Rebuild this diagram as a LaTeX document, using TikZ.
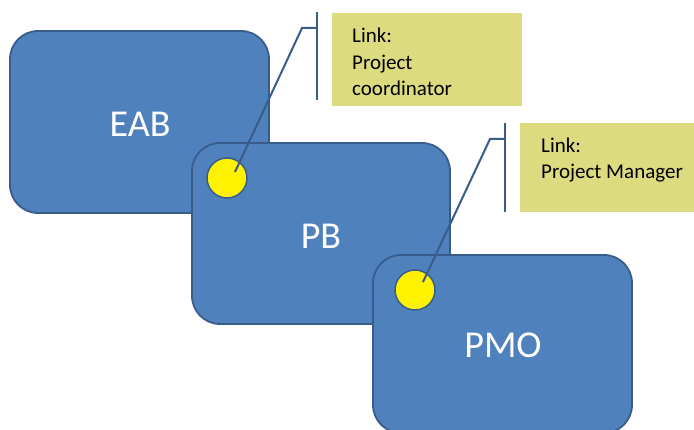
\documentclass[tikz,border=0pt]{standalone}
\usepackage{fontspec}
\setmainfont{Carlito}
\definecolor{boxblue}{RGB}{79,129,189}
\definecolor{edgeblue}{RGB}{56,93,138}
\definecolor{calloutfill}{RGB}{221,219,128}
\begin{document}
\begin{tikzpicture}[x=1pt,y=-1pt,
  bigbox/.style={draw=edgeblue, line width=1.8pt, fill=boxblue, rounded corners=28pt, inner sep=0pt},
  boxlabel/.style={text=white, font=\fontsize{38}{44}\selectfont},
  dot/.style={circle, draw=edgeblue, line width=1.5pt, fill=yellow, inner sep=0pt, minimum size=40pt},
  notebox/.style={fill=calloutfill, inner sep=0pt},
  notetext/.style={anchor=base west, inner sep=0pt, text=black, font=\fontsize{21}{25}\selectfont},
  leader/.style={draw=edgeblue, line width=2pt}]
\useasboundingbox (0,0) rectangle (694,430);
\fill[white] (0,0) rectangle (694,430);
% boxes
\node[bigbox, minimum width=259pt, minimum height=182pt] (eab) at (139.5,122) {};
\node[boxlabel] (eabt) at (140,124) {EAB};
\node[bigbox, minimum width=258pt, minimum height=181pt] (pb) at (321,233.5) {};
\node[boxlabel] (pbt) at (321,236) {PB};
\node[bigbox, minimum width=259pt, minimum height=178pt] (pmo) at (502.5,344) {};
\node[boxlabel] (pmot) at (503,345) {PMO};
% yellow dots
\node[dot] (d1) at (227,178) {};
\node[dot] (d2) at (415,290) {};
% callout 1
\node[notebox, minimum width=190pt, minimum height=93pt, anchor=north west] (n1) at (332,13) {};
\coordinate (b1t) at (317,12);
\coordinate (b1b) at (317,100);
\coordinate (k1) at (302,28);
\coordinate (h1) at (317,28);
\draw[leader] (b1t) -- (b1b);
\draw[leader] ([shift={(8,-6)}]d1.center) -- (k1) -- (h1);
\node[notetext] (n1a) at (352,43) {Link:};
\node[notetext] (n1b) at (352,69.5) {Project};
\node[notetext] (n1c) at (352,96) {coordinator};
% callout 2
\node[notebox, minimum width=180pt, minimum height=89pt, anchor=north west] (n2) at (520,123) {};
\coordinate (b2t) at (505,123);
\coordinate (b2b) at (505,212);
\coordinate (k2) at (490,139);
\coordinate (h2) at (505,139);
\draw[leader] (b2t) -- (b2b);
\draw[leader] ([shift={(8,-8)}]d2.center) -- (k2) -- (h2);
\node[notetext] (n2a) at (541,153) {Link:};
\node[notetext] (n2b) at (541,179) {Project Manager};
\end{tikzpicture}
\end{document}
